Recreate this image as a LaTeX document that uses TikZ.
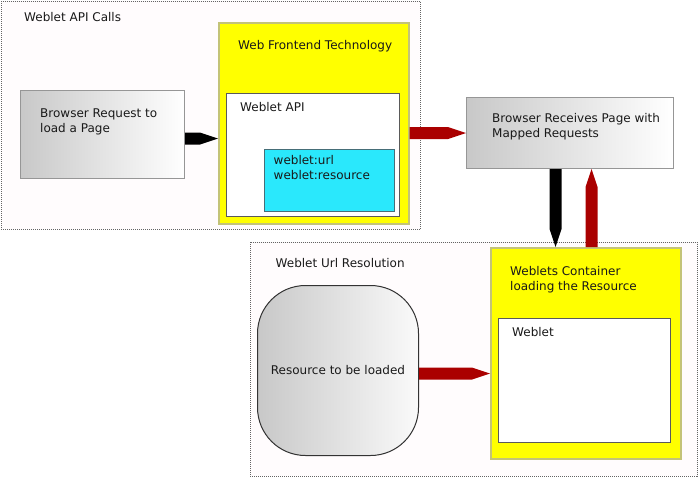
\documentclass[tikz,border=0pt]{standalone}
\usepackage{fontspec}
\setmainfont{DejaVu Sans}
\usetikzlibrary{calc}
\definecolor{frameFill}{RGB}{255,252,253}
\definecolor{frameLine}{RGB}{100,100,100}
\definecolor{ylw}{RGB}{255,255,0}
\definecolor{ylwLine}{RGB}{195,195,120}
\definecolor{cyanFill}{RGB}{42,232,252}
\definecolor{cyanLine}{RGB}{70,110,120}
\definecolor{grayL}{RGB}{200,200,200}
\definecolor{boxLine}{RGB}{150,150,150}
\definecolor{innerLine}{RGB}{90,90,90}
\definecolor{darkred}{RGB}{170,0,0}
% pencil-shaped thick arrow from #1 to #2, colour #3
\newcommand\pencilarrow[3]{%
  \path (#1) coordinate (ps) (#2) coordinate (pe) ($(pe)!18pt!(ps)$) coordinate (ph);
  \fill[#3] ($(ps)!6pt!90:(pe)$) -- ($(ph)!6pt!-90:(ps)$) -- (pe)
     -- ($(ph)!6pt!90:(ps)$) -- ($(ps)!6pt!-90:(pe)$) -- cycle;}
\begin{document}
\begin{tikzpicture}[x=1pt,y=-1pt,
  font=\fontsize{12}{15}\selectfont,
  frame/.style={draw=frameLine, dash pattern=on 1pt off 1pt, fill=frameFill, line width=0.9pt, inner sep=0, anchor=north west},
  ybox/.style={draw=ylwLine, fill=ylw, line width=1.6pt, inner sep=0, anchor=north west},
  wbox/.style={draw=innerLine, fill=white, line width=1.4pt, inner sep=0, anchor=north west},
  cbox/.style={draw=cyanLine, fill=cyanFill, line width=1pt, inner sep=0, anchor=north west},
  gbox/.style={draw=boxLine, left color=grayL, right color=white, line width=1pt, inner sep=0, anchor=north west},
  lbl/.style={anchor=north west, inner sep=0, align=left, text=black!90},
]
\useasboundingbox (0,0) rectangle (700,477);
% frames
\node[frame, minimum width=419.5pt, minimum height=228.5pt] (f1) at (0.5,0.5) {};
\node[frame, minimum width=447pt, minimum height=234pt] (f2) at (250,242) {};
\node[lbl] (f1t) at (24,12) {Weblet API Calls};
\node[lbl] (f2t) at (275.5,258) {Weblet Url Resolution};
% top group
\node[gbox, minimum width=164pt, minimum height=88pt] (req) at (20,90) {};
\node[lbl] (reqt) at (40,108.5) {Browser Request to\\load a Page};
\node[ybox, minimum width=190pt, minimum height=201pt] (front) at (218,22) {};
\node[lbl] (frontt) at (238,40.5) {Web Frontend Technology};
\node[wbox, minimum width=173pt, minimum height=123pt] (api) at (226,93) {};
\node[lbl] (apit) at (240,102.5) {Weblet API};
\node[cbox, minimum width=130pt, minimum height=62pt] (cy) at (264,149) {};
\node[lbl] (cyt) at (273.5,155.5) {weblet:url\\weblet:resource};
\node[gbox, minimum width=207pt, minimum height=71pt] (recv) at (466,97) {};
\node[lbl] (recvt) at (492,113) {Browser Receives Page with\\Mapped Requests};
% bottom group
\node[gbox, draw=black!80, right color=black!2, rounded corners=48pt, minimum width=161pt, minimum height=170pt, text=black!90] (res) at (257,285) {Resource to be loaded};
\node[ybox, minimum width=190pt, minimum height=211pt] (cont) at (490,247) {};
\node[lbl] (contt) at (510,266.5) {Weblets Container\\loading the Resource};
\node[wbox, minimum width=172pt, minimum height=124pt] (wl) at (498,318) {};
\node[lbl] (wlt) at (512,327.5) {Weblet};
% arrows
\pencilarrow{[yshift=-4pt]req.east}{[yshift=-4pt]req.east -| front.west}{black}
\pencilarrow{front.east |- recv.west}{recv.west}{darkred}
\pencilarrow{[xshift=-14.5pt]recv.south}{[xshift=-14.5pt]recv.south |- cont.north}{black}
\pencilarrow{[xshift=21.5pt]recv.south |- cont.north}{[xshift=21.5pt]recv.south}{darkred}
\pencilarrow{[yshift=-3pt]res.east}{[yshift=-3pt]res.east -| cont.west}{darkred}
\end{tikzpicture}
\end{document}
